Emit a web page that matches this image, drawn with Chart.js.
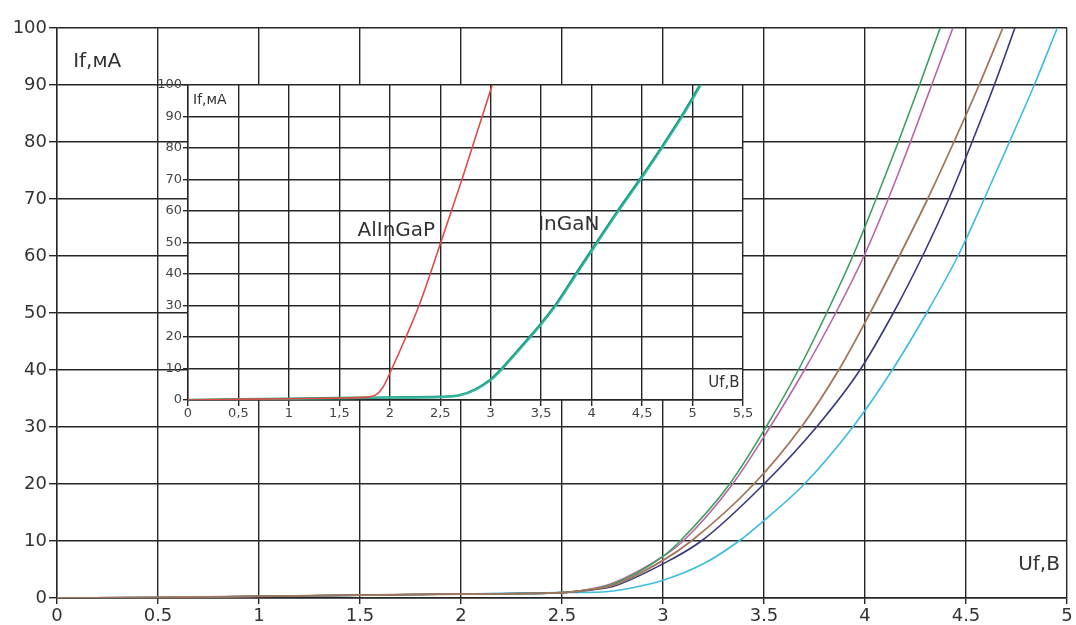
<!DOCTYPE html>
<html>
<head>
<meta charset="utf-8">
<script src="https://cdn.jsdelivr.net/npm/chart.js@4/dist/chart.umd.min.js"></script>
<style>
  html, body { margin: 0; padding: 0; background: #ffffff; }
  #wrap { position: relative; width: 1076px; height: 625px; overflow: hidden; }
  #mainChart { position: absolute; left: 0; top: 0; }
  #insetChart { position: absolute; left: 150px; top: 60px; }
</style>
</head>
<body>
<div id="wrap">
  <canvas id="mainChart" width="1076" height="625"></canvas>
  <canvas id="insetChart" width="620" height="370"></canvas>
</div>
<script>
// ---- Main plot: forward current vs. forward voltage, five LEDs ----
const mainUTicks = ['0', '0.5', '1', '1.5', '2', '2.5', '3', '3.5', '4', '4.5', '5'];
const mainITicks = ['0', '10', '20', '30', '40', '50', '60', '70', '80', '90', '100'];

const greenU   = [0, 0.5, 1, 1.5, 2, 2.5, 2.6, 2.75, 3.0, 3.085, 3.33, 3.51, 3.67, 3.81, 3.94, 4.055, 4.165, 4.27, 4.372];
const greenI   = [0, 0.1, 0.3, 0.5, 0.7, 0.95, 1.3, 2.4, 7.3, 10, 20, 30, 40, 50, 60, 70, 80, 90, 100];

const magentaU = [0, 0.5, 1, 1.5, 2, 2.5, 2.6, 2.75, 3.0, 3.10, 3.345, 3.53, 3.70, 3.855, 3.995, 4.115, 4.225, 4.33, 4.435];
const magentaI = [0, 0.1, 0.3, 0.5, 0.7, 0.95, 1.3, 2.6, 7.3, 10, 20, 30, 40, 50, 60, 70, 80, 90, 100];

const brownU   = [0, 0.5, 1, 1.5, 2, 2.5, 2.6, 2.75, 3.0, 3.14, 3.45, 3.685, 3.87, 4.025, 4.17, 4.31, 4.44, 4.565, 4.682];
const brownI   = [0, 0.1, 0.3, 0.5, 0.7, 0.95, 1.3, 2.2, 6.6, 10, 20, 30, 40, 50, 60, 70, 80, 90, 100];

const navyU    = [0, 0.5, 1, 1.5, 2, 2.5, 2.6, 2.75, 3.0, 3.19, 3.50, 3.76, 3.975, 4.14, 4.285, 4.415, 4.53, 4.64, 4.742];
const navyI    = [0, 0.1, 0.3, 0.5, 0.7, 0.95, 1.25, 2.0, 6.0, 10, 20, 30, 40, 50, 60, 70, 80, 90, 100];

const cyanU    = [0, 0.5, 1, 1.5, 2, 2.5, 2.7, 2.85, 3.0, 3.2, 3.376, 3.5, 3.70, 3.94, 4.135, 4.305, 4.46, 4.59, 4.715, 4.838, 4.952];
const cyanI    = [0, 0.1, 0.3, 0.5, 0.7, 0.95, 1.05, 1.8, 3.1, 6.0, 10, 13.6, 20, 30, 40, 50, 60, 70, 80, 90, 100];

// ---- Inset: AlInGaP vs. InGaN families ----
const insetUTicks = ['0', '0,5', '1', '1,5', '2', '2,5', '3', '3,5', '4', '4,5', '5', '5,5'];
const insetITicks = ['0', '10', '20', '30', '40', '50', '60', '70', '80', '90', '100'];

const alingapU = [0, 0.5, 1, 1.5, 1.8, 1.88, 1.94, 2.0, 2.16, 2.29, 2.40, 2.505, 2.61, 2.715, 2.815, 2.915, 3.015];
const alingapI = [0, 0.2, 0.4, 0.6, 1.0, 2.0, 4.5, 8.5, 20, 30, 40, 50, 60, 70, 80, 90, 100];

const ingan1U  = [0, 0.5, 1, 1.5, 2, 2.5, 2.7, 2.85, 3.0, 3.1, 3.25, 3.4, 3.5, 3.65, 3.85, 4.05, 4.27, 4.5, 4.7, 4.9, 5.075];
const ingan1I  = [0, 0.2, 0.4, 0.6, 0.8, 1.0, 1.6, 3.4, 6.5, 9.6, 15, 20.5, 24.3, 30.5, 40.3, 50, 60.5, 71, 80.5, 90.5, 100];

const ingan2U  = [0, 0.5, 1, 1.5, 2, 2.5, 2.71, 2.862, 3.012, 3.112, 3.262, 3.412, 3.512, 3.662, 3.862, 4.062, 4.282, 4.512, 4.712, 4.912, 5.087];
const ingan2I  = [0, 0.2, 0.4, 0.6, 0.8, 1.0, 1.6, 3.4, 6.5, 9.6, 15, 20.5, 24.3, 30.5, 40.3, 50, 60.5, 71, 80.5, 90.5, 100];

const FONT = 'DejaVu Sans';
const GRID = '#262626';
const TEXT = '#333333';

function points(us, is) {
  return us.map((u, k) => ({ x: u, y: is[k] }));
}

function curve(us, is, color, width) {
  return {
    data: points(us, is),
    borderColor: color,
    borderWidth: width,
    pointRadius: 0,
    showLine: true,
    fill: false,
    cubicInterpolationMode: 'monotone'
  };
}

// draws free text labels placed in data coordinates
const textLabels = {
  id: 'textLabels',
  afterDatasetsDraw(chart, args, opts) {
    const ctx = chart.ctx;
    const sx = chart.scales.x, sy = chart.scales.y;
    ctx.save();
    ctx.fillStyle = TEXT;
    ctx.textBaseline = 'middle';
    for (const t of opts.items || []) {
      ctx.font = t.font;
      ctx.textAlign = t.align || 'left';
      ctx.fillText(t.text, sx.getPixelForValue(t.u), sy.getPixelForValue(t.i));
    }
    ctx.restore();
  }
};

// white plot background so the inset hides the grid behind it
const plotBackground = {
  id: 'plotBackground',
  beforeDraw(chart) {
    const a = chart.chartArea;
    const ctx = chart.ctx;
    ctx.save();
    ctx.fillStyle = '#ffffff';
    ctx.fillRect(a.left, a.top, a.right - a.left, a.bottom - a.top);
    ctx.restore();
  }
};

Chart.defaults.font.family = FONT;
Chart.defaults.color = TEXT;

// first dataset is painted on top, so the brown trace covers the shared low-voltage part
new Chart(document.getElementById('mainChart'), {
  type: 'scatter',
  data: {
    datasets: [
      curve(brownU, brownI, '#a2765c', 1.8),
      curve(greenU, greenI, '#3d9e62', 1.6),
      curve(magentaU, magentaI, '#b866a6', 1.6),
      curve(navyU, navyI, '#38387e', 1.6),
      curve(cyanU, cyanI, '#3dbbe0', 1.6)
    ]
  },
  options: {
    responsive: false,
    animation: false,
    devicePixelRatio: 1,
    layout: { padding: { left: 0, top: 28, right: 9, bottom: 0 } },
    plugins: {
      legend: { display: false },
      tooltip: { enabled: false },
      textLabels: {
        items: [
          { text: 'If,мА', u: 0.08, i: 94, font: '20px ' + FONT },
          { text: 'Uf,В', u: 4.965, i: 5.8, font: '20px ' + FONT, align: 'right' }
        ]
      }
    },
    scales: {
      x: {
        type: 'linear', min: 0, max: 5,
        ticks: { stepSize: 0.5, padding: 2, font: { size: 18 }, color: TEXT, maxRotation: 0,
                 callback: (v, k) => mainUTicks[k] },
        grid: { color: GRID, lineWidth: 1.4, tickLength: 6 },
        border: { color: GRID, width: 1.4 },
        afterFit(s) { s.height = 27; }
      },
      y: {
        type: 'linear', min: 0, max: 100,
        ticks: { stepSize: 10, padding: 2, font: { size: 18 }, color: TEXT,
                 callback: (v, k) => mainITicks[k] },
        grid: { color: GRID, lineWidth: 1.4, tickLength: 8 },
        border: { color: GRID, width: 1.4 },
        afterFit(s) { s.width = 57; }
      }
    }
  },
  plugins: [textLabels]
});

new Chart(document.getElementById('insetChart'), {
  type: 'scatter',
  data: {
    datasets: [
      curve(alingapU, alingapI, '#e04a44', 1.6),
      curve(ingan2U, ingan2I, '#3bbcae', 1.4),
      curve(ingan1U, ingan1I, '#1f9c78', 2.6)
    ]
  },
  options: {
    responsive: false,
    animation: false,
    devicePixelRatio: 1,
    layout: { padding: { left: 0, top: 25, right: 27, bottom: 0 } },
    plugins: {
      legend: { display: false },
      tooltip: { enabled: false },
      textLabels: {
        items: [
          { text: 'If,мА', u: 0.05, i: 95.2, font: '14px ' + FONT },
          { text: 'Uf,В', u: 5.465, i: 5.4, font: '15px ' + FONT, align: 'right' },
          { text: 'AlInGaP', u: 1.68, i: 53.6, font: '20px ' + FONT },
          { text: 'InGaN', u: 3.47, i: 55.5, font: '20px ' + FONT }
        ]
      }
    },
    scales: {
      x: {
        type: 'linear', min: 0, max: 5.5,
        ticks: { stepSize: 0.5, padding: 0, font: { size: 13 }, color: '#444', maxRotation: 0,
                 callback: (v, k) => insetUTicks[k] },
        grid: { color: GRID, lineWidth: 1.4, tickLength: 6 },
        border: { color: GRID, width: 1.4 },
        afterFit(s) { s.height = 30; }
      },
      y: {
        type: 'linear', min: 0, max: 100,
        ticks: { stepSize: 10, padding: 1, font: { size: 13 }, color: '#444',
                 callback: (v, k) => insetITicks[k] },
        grid: { color: GRID, lineWidth: 1.4, tickLength: 5 },
        border: { color: GRID, width: 1.4 },
        afterFit(s) { s.width = 38; }
      }
    }
  },
  plugins: [plotBackground, textLabels]
});
</script>
</body>
</html>
